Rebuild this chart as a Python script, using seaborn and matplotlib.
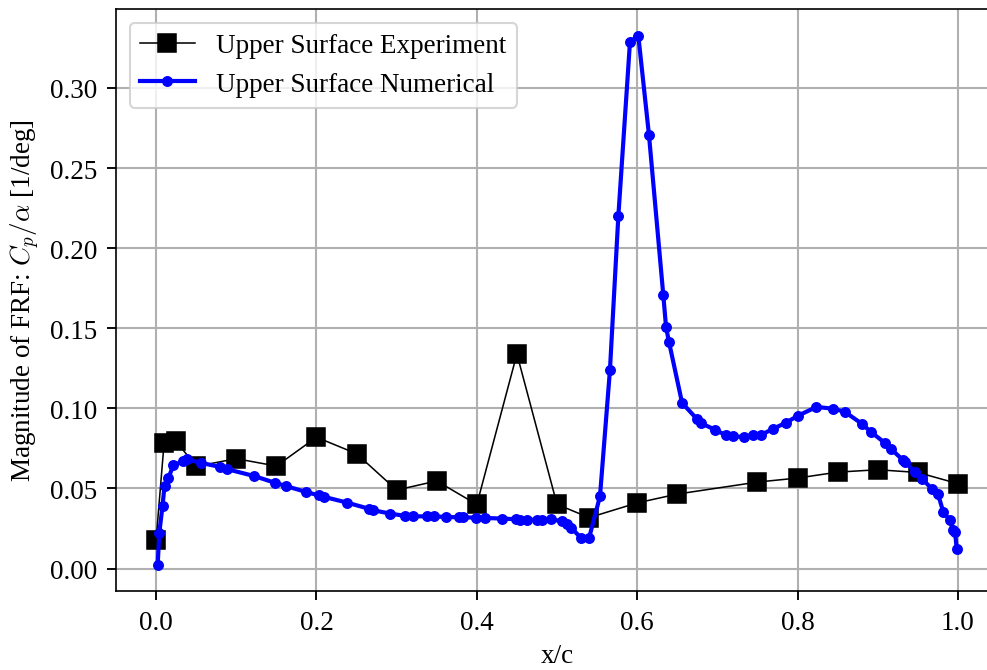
import matplotlib
matplotlib.use("Agg")
import matplotlib.pyplot as plt
import seaborn as sns
import pandas as pd

# Experimental upper-surface FRF magnitude
x_exp = [0.0, 0.01, 0.025, 0.05, 0.10, 0.15, 0.20, 0.25, 0.30, 0.35, 0.40, 0.45,
         0.50, 0.54, 0.60, 0.65, 0.75, 0.80, 0.85, 0.90, 0.95, 1.0]
y_exp = [0.0177, 0.0786, 0.0794, 0.0638, 0.0686, 0.0640, 0.0820, 0.0717, 0.0490,
         0.0547, 0.0400, 0.1340, 0.0401, 0.0318, 0.0410, 0.0465, 0.0540, 0.0565,
         0.0602, 0.0617, 0.0600, 0.0530]

# Numerical upper-surface FRF magnitude
x_num = [0.002, 0.004, 0.008, 0.0105, 0.0153, 0.0216, 0.034, 0.038, 0.056, 0.080,
         0.089, 0.122, 0.148, 0.1615, 0.187, 0.203, 0.210, 0.238, 0.265, 0.271,
         0.292, 0.3105, 0.320, 0.3375, 0.346, 0.3616, 0.378, 0.383, 0.399, 0.410,
         0.432, 0.449, 0.454, 0.462, 0.4745, 0.481, 0.492, 0.5057, 0.513, 0.5175,
         0.5295, 0.540, 0.5536, 0.566, 0.5765, 0.591, 0.6014, 0.6147, 0.6326, 0.636,
         0.6397, 0.656, 0.675, 0.679, 0.697, 0.7107, 0.719, 0.733, 0.744, 0.755,
         0.7697, 0.785, 0.800, 0.8236, 0.8445, 0.8591, 0.8799, 0.8915, 0.909, 0.916,
         0.9318, 0.934, 0.9464, 0.955, 0.9674, 0.975, 0.9817, 0.990, 0.994, 0.9965,
         0.9985]
y_num = [0.0025, 0.0223, 0.039, 0.0516, 0.0566, 0.0645, 0.067, 0.0682, 0.066, 0.0634,
         0.062, 0.0578, 0.0536, 0.0516, 0.0478, 0.0457, 0.0447, 0.0412, 0.0374, 0.0364,
         0.0343, 0.0329, 0.0326, 0.0326, 0.0326, 0.0322, 0.032, 0.032, 0.0318, 0.0316,
         0.0312, 0.0308, 0.0306, 0.0304, 0.0304, 0.0306, 0.0308, 0.0296, 0.028, 0.0256,
         0.0193, 0.0191, 0.0451, 0.1237, 0.220, 0.3286, 0.3327, 0.2707, 0.1705, 0.1508,
         0.1414, 0.1034, 0.0931, 0.0909, 0.0867, 0.0832, 0.0825, 0.0822, 0.0832, 0.0836,
         0.0873, 0.0909, 0.0953, 0.1009, 0.0998, 0.0978, 0.0905, 0.0853, 0.0784, 0.0749,
         0.0676, 0.0666, 0.0603, 0.0561, 0.0499, 0.0468, 0.0354, 0.0301, 0.0239, 0.0229,
         0.012]

plt.rcParams["font.family"] = ["Liberation Serif", "DejaVu Serif"]
plt.rcParams["mathtext.fontset"] = "cm"
plt.rcParams["font.size"] = 13

df_exp = pd.DataFrame({"x": x_exp, "y": y_exp})
df_num = pd.DataFrame({"x": x_num, "y": y_num})

fig = plt.figure(figsize=(6.58, 4.4733), dpi=150)
ax = fig.add_axes([116 / 987, 79 / 671, 882 / 987, 582 / 671])

sns.lineplot(data=df_exp, x="x", y="y", ax=ax, color="black", linewidth=0.75,
             marker="s", markersize=9, markeredgecolor="black",
             estimator=None, sort=False, label="Upper Surface Experiment")
sns.lineplot(data=df_num, x="x", y="y", ax=ax, color="blue", linewidth=2,
             marker="o", markersize=4.5, markeredgecolor="blue",
             estimator=None, sort=False, label="Upper Surface Numerical")

ax.set_xlim(-0.05, 1.05)
ax.set_ylim(-0.014, 0.3493)
ax.set_xticks([0.0, 0.2, 0.4, 0.6, 0.8, 1.0])
ax.set_yticks([0.0, 0.05, 0.10, 0.15, 0.20, 0.25, 0.30])
ax.yaxis.set_major_formatter(matplotlib.ticker.FormatStrFormatter("%.2f"))
ax.xaxis.set_major_formatter(matplotlib.ticker.FormatStrFormatter("%.1f"))
ax.tick_params(axis="both", length=4.5, width=0.9, pad=4.5)
ax.grid(True, color="#b0b0b0", linewidth=1.0)
ax.set_axisbelow(True)
ax.spines["right"].set_visible(False)
ax.set_xlabel("x/c")
ax.set_ylabel(r"Magnitude of FRF: $C_p/\alpha$ [1/deg]")
ax.legend(loc="upper left")

fig.savefig("out.png", dpi=150)
